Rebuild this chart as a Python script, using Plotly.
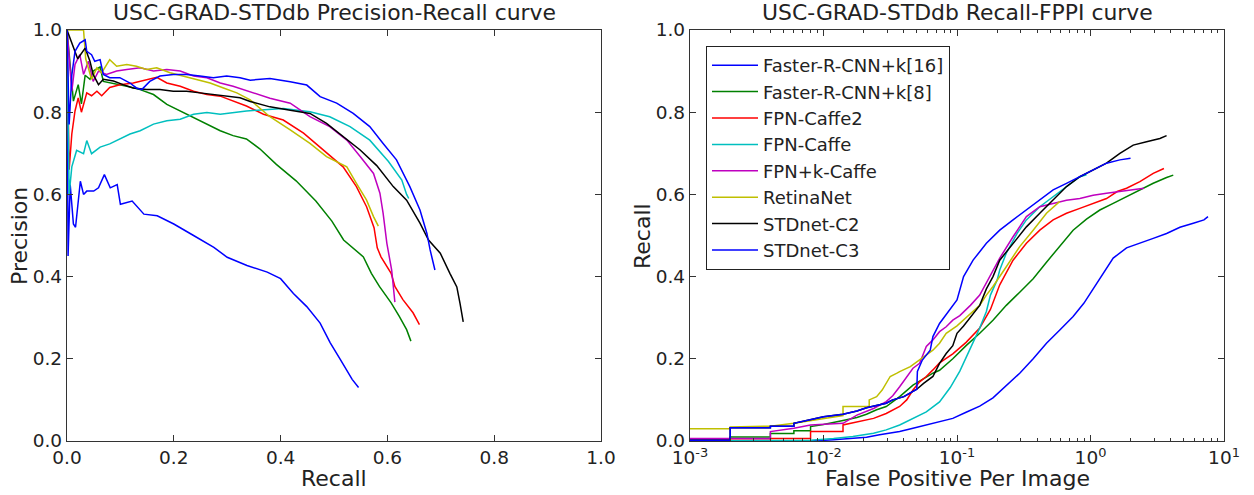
import plotly.graph_objects as go

W, H = 1254, 495

names = ["Faster-R-CNN+k[16]", "Faster-R-CNN+k[8]", "FPN-Caffe2", "FPN-Caffe",
         "FPN+k-Caffe", "RetinaNet", "STDnet-C2", "STDnet-C3"]
colors = ["#0000ff", "#008000", "#ff0000", "#00bfbf", "#bf00bf", "#bfbf00", "#000000", "#0000ff"]

# ---------------- Precision-Recall data (recall, precision) ----------------
pr_r_frcnn16 = [0.0, 0.002, 0.006, 0.012, 0.016, 0.025, 0.031, 0.037, 0.05, 0.059, 0.07, 0.081, 0.094, 0.1,
                0.122, 0.144, 0.169, 0.2, 0.237, 0.275, 0.3, 0.337, 0.375, 0.4, 0.424, 0.449, 0.474, 0.493,
                0.512, 0.527, 0.534, 0.546]
pr_p_frcnn16 = [1.0, 0.45, 0.624, 0.528, 0.52, 0.632, 0.6, 0.608, 0.608, 0.616, 0.648, 0.616, 0.624, 0.576,
                0.584, 0.552, 0.548, 0.528, 0.5, 0.471, 0.447, 0.427, 0.411, 0.395, 0.359, 0.327, 0.287, 0.239,
                0.198, 0.166, 0.15, 0.13]

pr_r_frcnn8 = [0.0, 0.012, 0.021, 0.027, 0.034, 0.043, 0.049, 0.062, 0.068, 0.087, 0.112, 0.137, 0.162, 0.187,
               0.212, 0.237, 0.262, 0.287, 0.311, 0.336, 0.361, 0.392, 0.429, 0.466, 0.496, 0.518, 0.555, 0.57,
               0.585, 0.607, 0.622, 0.636, 0.644]
pr_p_frcnn8 = [1.0, 0.827, 0.867, 0.82, 0.89, 0.88, 0.9, 0.91, 0.875, 0.87, 0.863, 0.855, 0.843, 0.819,
               0.803, 0.787, 0.771, 0.755, 0.743, 0.735, 0.711, 0.673, 0.633, 0.584, 0.535, 0.489, 0.448, 0.408,
               0.376, 0.336, 0.304, 0.271, 0.243]

pr_r_fpn2 = [0.0, 0.004, 0.009, 0.015, 0.021, 0.027, 0.037, 0.046, 0.056, 0.065, 0.08, 0.099, 0.124, 0.149,
             0.168, 0.187, 0.212, 0.237, 0.262, 0.287, 0.311, 0.336, 0.368, 0.405, 0.443, 0.48, 0.517, 0.542,
             0.561, 0.575, 0.581, 0.588, 0.607, 0.614, 0.629, 0.648, 0.66]
pr_p_fpn2 = [1.0, 0.66, 0.747, 0.803, 0.835, 0.8, 0.847, 0.84, 0.851, 0.84, 0.86, 0.867, 0.871, 0.88,
             0.885, 0.871, 0.863, 0.851, 0.843, 0.839, 0.827, 0.815, 0.795, 0.781, 0.749, 0.708, 0.667, 0.619,
             0.57, 0.519, 0.47, 0.448, 0.408, 0.376, 0.344, 0.312, 0.283]

pr_r_fpn = [0.0, 0.004, 0.009, 0.018, 0.031, 0.037, 0.046, 0.062, 0.08, 0.099, 0.118, 0.137, 0.162, 0.187,
            0.212, 0.237, 0.262, 0.287, 0.311, 0.336, 0.37, 0.405, 0.455, 0.492, 0.53, 0.567, 0.602, 0.627,
            0.636, 0.64]
pr_p_fpn = [1.0, 0.6, 0.667, 0.707, 0.699, 0.731, 0.699, 0.715, 0.723, 0.735, 0.747, 0.755, 0.771, 0.779,
            0.783, 0.795, 0.799, 0.795, 0.799, 0.803, 0.806, 0.809, 0.801, 0.789, 0.765, 0.732, 0.68, 0.635,
            0.6, 0.59]

pr_r_fpnk = [0.0, 0.009, 0.015, 0.024, 0.031, 0.04, 0.049, 0.059, 0.074, 0.093, 0.112, 0.137, 0.162, 0.187,
             0.212, 0.237, 0.262, 0.287, 0.311, 0.34, 0.38, 0.418, 0.455, 0.492, 0.524, 0.549, 0.574, 0.586,
             0.592, 0.599, 0.608, 0.614]
pr_p_fpnk = [1.0, 0.851, 0.916, 0.94, 0.892, 0.924, 0.875, 0.9, 0.892, 0.9, 0.904, 0.908, 0.9, 0.904,
             0.9, 0.888, 0.884, 0.871, 0.863, 0.85, 0.834, 0.822, 0.789, 0.765, 0.732, 0.692, 0.651, 0.603,
             0.554, 0.481, 0.416, 0.338]

pr_r_retina = [0.0, 0.031, 0.035, 0.046, 0.056, 0.065, 0.08, 0.093, 0.112, 0.13, 0.149, 0.168, 0.193, 0.218,
               0.243, 0.268, 0.293, 0.318, 0.343, 0.38, 0.418, 0.455, 0.486, 0.524, 0.542, 0.561, 0.574, 0.583]
pr_p_retina = [1.0, 1.0, 0.93, 0.88, 0.908, 0.896, 0.928, 0.912, 0.916, 0.912, 0.904, 0.908, 0.896, 0.888,
               0.88, 0.871, 0.859, 0.847, 0.83, 0.789, 0.757, 0.724, 0.692, 0.667, 0.627, 0.586, 0.546, 0.523]

pr_r_c2 = [0.0, 0.02, 0.034, 0.043, 0.049, 0.059, 0.068, 0.087, 0.105, 0.124, 0.149, 0.174, 0.199, 0.224,
           0.249, 0.274, 0.299, 0.324, 0.343, 0.38, 0.418, 0.455, 0.486, 0.517, 0.549, 0.58, 0.611, 0.636,
           0.661, 0.677, 0.699, 0.717, 0.73, 0.736, 0.742]
pr_p_c2 = [1.0, 0.93, 0.956, 0.924, 0.892, 0.867, 0.88, 0.876, 0.867, 0.859, 0.855, 0.855, 0.851, 0.851,
           0.847, 0.843, 0.839, 0.835, 0.826, 0.813, 0.805, 0.797, 0.773, 0.74, 0.708, 0.67, 0.619, 0.586,
           0.53, 0.489, 0.457, 0.408, 0.375, 0.335, 0.29]

pr_r_c3 = [0.0, 0.004, 0.009, 0.015, 0.024, 0.034, 0.037, 0.046, 0.052, 0.062, 0.068, 0.08, 0.099, 0.118,
           0.13, 0.14, 0.155, 0.174, 0.199, 0.224, 0.249, 0.274, 0.299, 0.324, 0.343, 0.38, 0.418, 0.449,
           0.474, 0.505, 0.536, 0.567, 0.592, 0.617, 0.642, 0.661, 0.674, 0.68, 0.689]
pr_p_c3 = [1.0, 0.77, 0.89, 0.948, 0.968, 0.976, 0.948, 0.94, 0.924, 0.928, 0.892, 0.884, 0.884, 0.871,
           0.859, 0.855, 0.875, 0.888, 0.892, 0.892, 0.888, 0.884, 0.888, 0.884, 0.878, 0.882, 0.874, 0.866,
           0.838, 0.822, 0.797, 0.765, 0.724, 0.684, 0.619, 0.562, 0.505, 0.465, 0.416]

# ---------------- Recall-FPPI data (fppi, recall) ----------------
fp_f_frcnn16 = [0.001, 0.008, 0.0119, 0.021, 0.0263, 0.0372, 0.0468, 0.0589, 0.074, 0.093, 0.117, 0.148,
                0.186, 0.234, 0.295, 0.372, 0.468, 0.589, 0.741, 0.891, 1.047, 1.2, 1.479, 1.862, 2.344,
                2.951, 3.715, 4.677, 5.888, 7.079, 7.586]
fp_r_frcnn16 = [0.0, 0.0, 0.003, 0.009, 0.015, 0.023, 0.031, 0.039, 0.047, 0.055, 0.07, 0.085,
                0.105, 0.135, 0.165, 0.2, 0.238, 0.27, 0.303, 0.335, 0.37, 0.40, 0.445, 0.47, 0.481,
                0.493, 0.505, 0.52, 0.53, 0.538, 0.546]

fp_f_frcnn8 = [0.001, 0.002, 0.002, 0.004, 0.004, 0.006, 0.006, 0.008, 0.008, 0.01, 0.014, 0.0178, 0.021,
               0.025, 0.0295, 0.0372, 0.0468, 0.066, 0.074, 0.093, 0.117, 0.148, 0.186, 0.234, 0.295, 0.372,
               0.468, 0.589, 0.741, 0.933, 1.175, 1.479, 1.862, 2.344, 2.951, 3.715, 4.169]
fp_r_frcnn8 = [0.002, 0.002, 0.01, 0.01, 0.018, 0.018, 0.025, 0.025, 0.035, 0.04, 0.05, 0.057, 0.065,
               0.076, 0.084, 0.108, 0.136, 0.165, 0.172, 0.2, 0.232, 0.262, 0.294, 0.33, 0.362, 0.395,
               0.435, 0.475, 0.513, 0.54, 0.562, 0.578, 0.595, 0.611, 0.627, 0.641, 0.647]

fp_f_fpn2 = [0.001, 0.004, 0.004, 0.008, 0.008, 0.014, 0.014, 0.0178, 0.0237, 0.0295, 0.0372, 0.042, 0.0468,
             0.0525, 0.0589, 0.066, 0.074, 0.093, 0.117, 0.148, 0.178, 0.209, 0.263, 0.331, 0.417, 0.525,
             0.661, 0.832, 1.047, 1.318, 1.585, 1.862, 2.344, 2.951, 3.548]
fp_r_fpn2 = [0.002, 0.002, 0.006, 0.006, 0.023, 0.023, 0.039, 0.047, 0.055, 0.067, 0.084, 0.1, 0.124,
             0.144, 0.157, 0.173, 0.19, 0.212, 0.24, 0.275, 0.32, 0.38, 0.44, 0.481, 0.513, 0.538,
             0.554, 0.566, 0.578, 0.59, 0.607, 0.615, 0.631, 0.651, 0.663]

fp_f_fpn = [0.001, 0.008, 0.0119, 0.0166, 0.0237, 0.0295, 0.0372, 0.0468, 0.0589, 0.074, 0.089, 0.105, 0.117,
            0.132, 0.148, 0.166, 0.178, 0.2, 0.209, 0.234, 0.282, 0.331, 0.417, 0.525, 0.661, 0.832, 0.933]
fp_r_fpn = [0.0, 0.002, 0.006, 0.011, 0.019, 0.027, 0.039, 0.055, 0.071, 0.095, 0.13, 0.17, 0.205,
            0.24, 0.275, 0.315, 0.355, 0.392, 0.416, 0.457, 0.505, 0.538, 0.57, 0.594, 0.619, 0.643, 0.648]

fp_f_fpnk = [0.001, 0.004, 0.004, 0.006, 0.008, 0.014, 0.0178, 0.0237, 0.0295, 0.033, 0.0372, 0.042, 0.0468,
             0.0525, 0.0589, 0.066, 0.074, 0.083, 0.093, 0.105, 0.126, 0.148, 0.166, 0.209, 0.263, 0.331,
             0.417, 0.525, 0.661, 0.832, 1.047, 1.318, 1.66, 1.995, 2.512]
fp_r_fpnk = [0.006, 0.006, 0.023, 0.031, 0.039, 0.043, 0.063, 0.079, 0.096, 0.11, 0.132, 0.157, 0.177,
             0.189, 0.23, 0.246, 0.266, 0.278, 0.294, 0.305, 0.33, 0.355, 0.385, 0.445, 0.497, 0.546,
             0.57, 0.578, 0.586, 0.59, 0.598, 0.603, 0.607, 0.611, 0.615]

fp_f_retina = [0.001, 0.002, 0.002, 0.004, 0.006, 0.01, 0.014, 0.014, 0.022, 0.022, 0.025, 0.0275, 0.0316,
               0.0355, 0.0372, 0.0447, 0.05, 0.0589, 0.066, 0.074, 0.083, 0.1, 0.112, 0.132, 0.148, 0.166,
               0.186, 0.234, 0.295, 0.372, 0.468, 0.589]
fp_r_retina = [0.03, 0.03, 0.034, 0.036, 0.043, 0.055, 0.062, 0.084, 0.084, 0.1, 0.108, 0.124, 0.157,
               0.165, 0.169, 0.181, 0.193, 0.209, 0.221, 0.238, 0.262, 0.28, 0.294, 0.315, 0.33, 0.355,
               0.376, 0.424, 0.473, 0.513, 0.554, 0.583]

fp_f_c2 = [0.001, 0.002, 0.002, 0.004, 0.004, 0.006, 0.006, 0.008, 0.01, 0.014, 0.0178, 0.021, 0.025, 0.0295,
           0.033, 0.04, 0.0447, 0.05, 0.0562, 0.066, 0.074, 0.083, 0.093, 0.1, 0.112, 0.126, 0.148, 0.166,
           0.186, 0.209, 0.263, 0.331, 0.417, 0.525, 0.661, 0.832, 1.047, 1.318, 1.66, 2.089, 2.63, 3.311, 3.715]
fp_r_c2 = [0.002, 0.002, 0.032, 0.032, 0.036, 0.036, 0.043, 0.051, 0.059, 0.065, 0.073, 0.081, 0.087, 0.092,
           0.1, 0.108, 0.117, 0.126, 0.14, 0.157, 0.189, 0.213, 0.232, 0.262, 0.28, 0.30, 0.33, 0.37,
           0.40, 0.44, 0.481, 0.521, 0.554, 0.586, 0.619, 0.643, 0.659, 0.676, 0.70, 0.72, 0.728, 0.736, 0.743]

fp_f_c3 = [0.001, 0.002, 0.002, 0.004, 0.004, 0.006, 0.006, 0.008, 0.01, 0.014, 0.0178, 0.021, 0.025, 0.0295,
           0.033, 0.04, 0.0447, 0.05, 0.0505, 0.055, 0.063, 0.066, 0.074, 0.083, 0.093, 0.1, 0.112, 0.132,
           0.166, 0.209, 0.263, 0.331, 0.417, 0.525, 0.661, 0.832, 1.047, 1.318, 1.66, 1.995]
fp_r_c3 = [0.002, 0.002, 0.032, 0.032, 0.036, 0.036, 0.043, 0.051, 0.059, 0.065, 0.073, 0.081, 0.087, 0.092,
           0.1, 0.108, 0.117, 0.126, 0.169, 0.197, 0.221, 0.254, 0.286, 0.307, 0.327, 0.343, 0.40, 0.44,
           0.481, 0.513, 0.538, 0.562, 0.586, 0.611, 0.627, 0.643, 0.659, 0.676, 0.684, 0.688]

pr_recall = [pr_r_frcnn16, pr_r_frcnn8, pr_r_fpn2, pr_r_fpn, pr_r_fpnk, pr_r_retina, pr_r_c2, pr_r_c3]
pr_precision = [pr_p_frcnn16, pr_p_frcnn8, pr_p_fpn2, pr_p_fpn, pr_p_fpnk, pr_p_retina, pr_p_c2, pr_p_c3]
fp_fppi = [fp_f_frcnn16, fp_f_frcnn8, fp_f_fpn2, fp_f_fpn, fp_f_fpnk, fp_f_retina, fp_f_c2, fp_f_c3]
fp_recall = [fp_r_frcnn16, fp_r_frcnn8, fp_r_fpn2, fp_r_fpn, fp_r_fpnk, fp_r_retina, fp_r_c2, fp_r_c3]

lin_ticks = [0.0, 0.2, 0.4, 0.6, 0.8, 1.0]
log_ticks = [0.001, 0.01, 0.1, 1, 10]
log_ticktext = ["10<sup>-3</sup>", "10<sup>-2</sup>", "10<sup>-1</sup>", "10<sup>0</sup>", "10<sup>1</sup>"]
log_minor = [m * d for d in (0.001, 0.01, 0.1, 1) for m in range(2, 10)]

FONT = "DejaVu Sans"

fig = go.Figure()
for i, name in enumerate(names):
    fig.add_trace(go.Scatter(x=pr_recall[i], y=pr_precision[i], mode="lines", name=name,
                             line=dict(color=colors[i], width=1.5), showlegend=False,
                             xaxis="x", yaxis="y", hoverinfo="skip"))
for i, name in enumerate(names):
    fig.add_trace(go.Scatter(x=fp_fppi[i], y=fp_recall[i], mode="lines", name=name,
                             line=dict(color=colors[i], width=1.5), showlegend=True,
                             xaxis="x2", yaxis="y2", hoverinfo="skip"))

axis_common = dict(showline=True, linecolor="#333", linewidth=1.3, mirror="allticks",
                   ticks="inside", ticklen=6, tickwidth=1.1, tickcolor="#333",
                   showgrid=False, zeroline=False, automargin=False,
                   tickfont=dict(family=FONT, size=18.5, color="#222"))

xdom_l = [67 / W, 601 / W]
xdom_r = [690 / W, 1224 / W]
ydom = [(H - 441) / H, (H - 30) / H]

fig.update_layout(
    width=W, height=H,
    margin=dict(l=0, r=0, t=0, b=0, autoexpand=False),
    paper_bgcolor="white", plot_bgcolor="white",
    font=dict(family=FONT, color="#222"),
    xaxis=dict(domain=xdom_l, range=[0, 1], tickvals=lin_ticks, tickformat=".1f", anchor="y", **axis_common),
    yaxis=dict(domain=ydom, range=[0, 1], tickvals=lin_ticks, tickformat=".1f", anchor="x", **axis_common),
    xaxis2=dict(domain=xdom_r, type="log", range=[-3, 1], tickvals=log_ticks, ticktext=log_ticktext,
                anchor="y2",
                minor=dict(tickvals=log_minor, ticks="inside", ticklen=3, tickcolor="#333", tickwidth=1),
                **axis_common),
    yaxis2=dict(domain=ydom, range=[0, 1], tickvals=lin_ticks, tickformat=".1f", anchor="x2", **axis_common),
    legend=dict(x=706 / W, y=1 - 46 / H, xanchor="left", yanchor="top",
                bordercolor="#222", borderwidth=1, bgcolor="white", itemwidth=46,
                font=dict(family=FONT, size=18, color="#222"), tracegroupgap=0),
    showlegend=True,
)

annos = [
    dict(text="USC-GRAD-STDdb Precision-Recall curve", x=334 / W, y=1 - 13 / H, size=21.9, angle=0),
    dict(text="USC-GRAD-STDdb Recall-FPPI curve", x=957 / W, y=1 - 13 / H, size=21.9, angle=0),
    dict(text="Recall", x=334 / W, y=1 - 478 / H, size=22, angle=0),
    dict(text="False Positive Per Image", x=957 / W, y=1 - 478 / H, size=22, angle=0),
    dict(text="Precision", x=20 / W, y=1 - 236 / H, size=22, angle=-90),
    dict(text="Recall", x=643 / W, y=1 - 236 / H, size=22, angle=-90),
]
for a in annos:
    fig.add_annotation(text=a["text"], x=a["x"], y=a["y"], xref="paper", yref="paper",
                       xanchor="center", yanchor="middle", showarrow=False, textangle=a["angle"],
                       font=dict(family=FONT, size=a["size"], color="#222"))

fig.write_html("out.html", config={"displayModeBar": False},
               post_script="document.body.style.margin='0';document.body.style.padding='0';")
